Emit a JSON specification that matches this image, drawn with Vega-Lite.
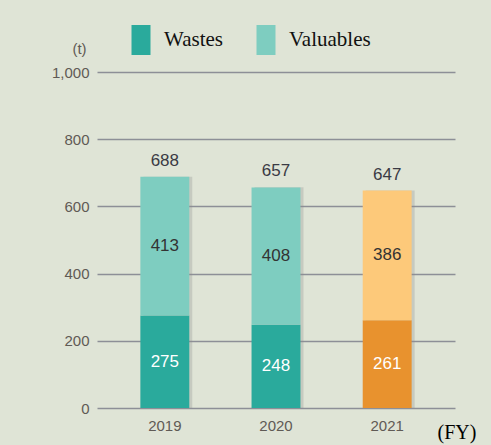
{
  "$schema": "https://vega.github.io/schema/vega-lite/v6.json",
  "width": 358,
  "height": 336,
  "autosize": {"type": "none"},
  "padding": {"left": 97, "top": 72, "right": 36, "bottom": 37},
  "background": "#dfe4d6",
  "config": {"view": {"stroke": null}},
  "datasets": {
    "parts": [
      {"year": "2019", "type": "Wastes", "value": 275},
      {"year": "2019", "type": "Valuables", "value": 413},
      {"year": "2020", "type": "Wastes", "value": 248},
      {"year": "2020", "type": "Valuables", "value": 408},
      {"year": "2021", "type": "Wastes", "value": 261},
      {"year": "2021", "type": "Valuables", "value": 386}
    ],
    "totals": [
      {"year": "2019", "total": 688},
      {"year": "2020", "total": 657},
      {"year": "2021", "total": 647}
    ]
  },
  "encoding": {
    "x": {
      "field": "year", "type": "nominal",
      "scale": {"paddingInner": 0.56, "paddingOuter": 0.39},
      "axis": {
        "labelAngle": 0, "domain": false, "ticks": false,
        "labelFont": "Liberation Sans", "labelFontSize": 15, "labelColor": "#5f5a55", "labelPadding": 10,
        "title": "(FY)", "titleFont": "Liberation Serif", "titleFontSize": 20, "titleFontWeight": "normal",
        "titleColor": "#000000", "titleX": 340, "titleY": 24, "titleAlign": "left", "titleBaseline": "middle"
      }
    }
  },
  "layer": [
    {
      "data": {"name": "totals"},
      "mark": {"type": "bar", "xOffset": 3, "color": "#8f8f8f", "opacity": 0.3},
      "encoding": {
        "y": {"field": "total", "type": "quantitative"}
      }
    },
    {
      "data": {"name": "parts"},
      "mark": {"type": "bar"},
      "encoding": {
        "y": {
          "field": "value", "type": "quantitative", "stack": "zero",
          "scale": {"domain": [0, 1000]},
          "axis": {
            "values": [0, 200, 400, 600, 800, 1000], "format": ",d",
            "domain": false, "ticks": false,
            "labelFont": "Liberation Sans", "labelFontSize": 15, "labelColor": "#5f5a55", "labelPadding": 8,
            "grid": true, "gridColor": "#8d8f97", "gridWidth": 1.5,
            "title": "(t)", "titleAngle": 0, "titleX": -18, "titleY": -24, "titleAlign": "center",
            "titleBaseline": "middle", "titleFont": "Liberation Sans", "titleFontSize": 15,
            "titleFontWeight": "normal", "titleColor": "#5f5a55"
          }
        },
        "order": {"field": "type", "sort": "descending"},
        "color": {
          "condition": [
            {"test": "datum.year === '2021' && datum.type === 'Wastes'", "value": "#e8922e"},
            {"test": "datum.year === '2021' && datum.type === 'Valuables'", "value": "#fdc97a"}
          ],
          "field": "type", "type": "nominal",
          "scale": {"domain": ["Wastes", "Valuables"], "range": ["#2aaa9c", "#7ecdc0"]},
          "legend": {
            "title": null, "orient": "none", "direction": "horizontal",
            "legendX": 29, "legendY": -47,
            "symbolType": "M-0.633,-1H0.633V1H-0.633Z", "symbolSize": 900,
            "symbolStrokeWidth": 0, "symbolOpacity": 1,
            "labelFont": "Liberation Serif", "labelFontSize": 21, "labelColor": "#111111",
            "labelOffset": 8, "columnPadding": 28, "padding": 0
          }
        }
      }
    },
    {
      "data": {"name": "parts"},
      "mark": {"type": "text", "font": "Liberation Sans", "fontSize": 17, "baseline": "middle"},
      "transform": [
        {"stack": "value", "groupby": ["year"], "sort": [{"field": "type", "order": "descending"}], "as": ["v0", "v1"]},
        {"calculate": "(datum.v0 + datum.v1) / 2", "as": "mid"}
      ],
      "encoding": {
        "y": {"field": "mid", "type": "quantitative"},
        "text": {"field": "value", "type": "quantitative"},
        "color": {
          "condition": {"test": "datum.type === 'Wastes'", "value": "#ffffff"},
          "value": "#333333"
        }
      }
    },
    {
      "data": {"name": "totals"},
      "mark": {"type": "text", "font": "Liberation Sans", "fontSize": 17, "baseline": "alphabetic", "dy": -11, "color": "#3a3a44"},
      "encoding": {
        "y": {"field": "total", "type": "quantitative"},
        "text": {"field": "total", "type": "quantitative"}
      }
    }
  ]
}
